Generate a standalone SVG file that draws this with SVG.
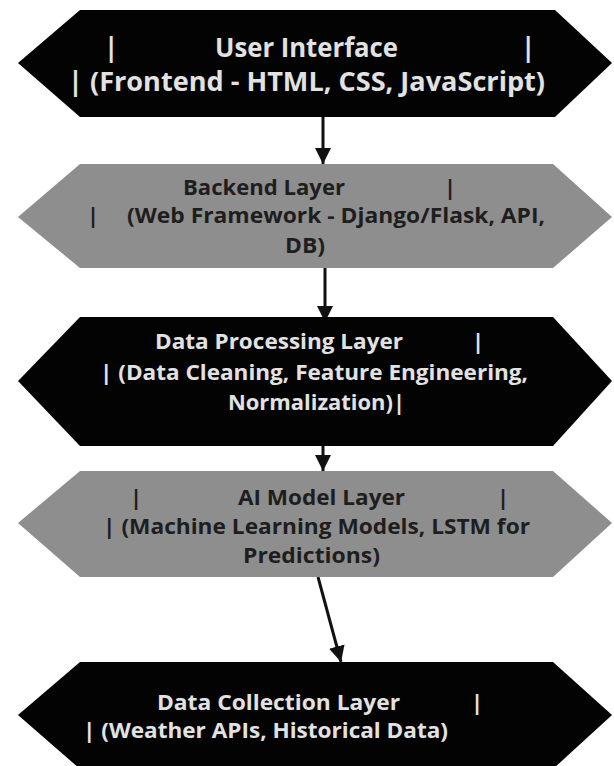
<svg xmlns="http://www.w3.org/2000/svg" width="614" height="766" viewBox="0 0 614 766">
<style>
.dark{fill:#030303}
.gray{fill:#8e8e8e}
.lt{font-family:"Open Sans","Noto Sans","Liberation Sans",sans-serif;font-weight:bold;fill:#e2e2e2}
.dt{font-family:"Open Sans","Noto Sans","Liberation Sans",sans-serif;font-weight:bold;fill:#1e1e1e}
.big{font-size:26px}
.sm{font-size:22px}
.conn{stroke:#111;stroke-width:3;fill:none;marker-end:url(#ah)}
</style>
<defs>
<marker id="ah" viewBox="0 0 10 10" refX="10" refY="5" markerUnits="userSpaceOnUse" markerWidth="16" markerHeight="16" orient="auto">
<path d="M0,0 L10,5 L0,10 Z" fill="#111"/>
</marker>
</defs>
<rect width="614" height="766" fill="#fff"/>
<g id="connectors">
<line class="conn" x1="323" y1="116" x2="323" y2="164"/>
<line class="conn" x1="325" y1="268" x2="325" y2="322"/>
<line class="conn" x1="323" y1="446" x2="323" y2="471"/>
<line class="conn" x1="318" y1="577" x2="341" y2="662"/>
</g>
<g id="node-ui">
<polygon class="dark" points="80,10 555,10 612,63 555,117 80,117 18,63"/>
<text class="lt big" y="57"><tspan x="104">|</tspan><tspan x="215" textLength="183" lengthAdjust="spacingAndGlyphs">User Interface</tspan><tspan x="521">|</tspan></text>
<text class="lt big" y="91" x="68" textLength="477" lengthAdjust="spacingAndGlyphs">| (Frontend - HTML, CSS, JavaScript)</text>
</g>
<g id="node-backend">
<polygon class="gray" points="80,164 553,164 612,217 553,268 80,268 18,217"/>
<text class="dt sm" y="195"><tspan x="183" textLength="162" lengthAdjust="spacingAndGlyphs">Backend Layer</tspan><tspan x="444">|</tspan></text>
<text class="dt sm" y="223"><tspan x="87">|</tspan><tspan x="127" textLength="418" lengthAdjust="spacingAndGlyphs">(Web Framework - Django/Flask, API,</tspan></text>
<text class="dt sm" y="253" x="285" textLength="40" lengthAdjust="spacingAndGlyphs">DB)</text>
</g>
<g id="node-processing">
<polygon class="dark" points="80,317 553,317 612,381 553,446 80,446 18,381"/>
<text class="lt sm" y="349"><tspan x="155" textLength="248" lengthAdjust="spacingAndGlyphs">Data Processing Layer</tspan><tspan x="472">|</tspan></text>
<text class="lt sm" y="380" x="100" textLength="428" lengthAdjust="spacingAndGlyphs">| (Data Cleaning, Feature Engineering,</text>
<text class="lt sm" y="410" x="228" textLength="177" lengthAdjust="spacingAndGlyphs">Normalization)|</text>
</g>
<g id="node-ai">
<polygon class="gray" points="80,471 553,471 612,523 553,577 80,577 18,523"/>
<text class="dt sm" y="505"><tspan x="130">|</tspan><tspan x="238" textLength="167" lengthAdjust="spacingAndGlyphs">AI Model Layer</tspan><tspan x="497">|</tspan></text>
<text class="dt sm" y="534" x="103" textLength="427" lengthAdjust="spacingAndGlyphs">| (Machine Learning Models, LSTM for</text>
<text class="dt sm" y="563" x="243" textLength="137" lengthAdjust="spacingAndGlyphs">Predictions)</text>
</g>
<g id="node-collection">
<polygon class="dark" points="80,662 553,662 612,715 553,769 80,769 18,715"/>
<text class="lt sm" y="710"><tspan x="157" textLength="243" lengthAdjust="spacingAndGlyphs">Data Collection Layer</tspan><tspan x="471">|</tspan></text>
<text class="lt sm" y="738" x="83" textLength="365" lengthAdjust="spacingAndGlyphs">| (Weather APIs, Historical Data)</text>
</g>
</svg>
